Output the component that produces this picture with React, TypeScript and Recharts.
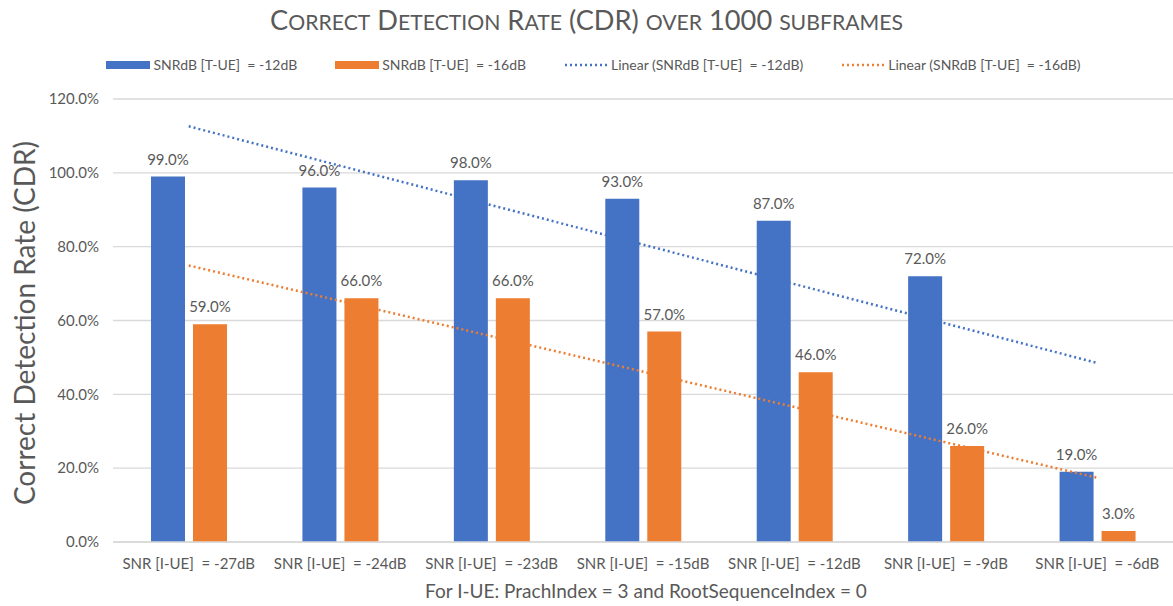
import React from 'react';
import { ComposedChart, Bar, Line, XAxis, YAxis, CartesianGrid, LabelList } from 'recharts';

const categories = [
  'SNR [I-UE]\u00A0 = -27dB',
  'SNR [I-UE]\u00A0 = -24dB',
  'SNR [I-UE]\u00A0 = -23dB',
  'SNR [I-UE]\u00A0 = -15dB',
  'SNR [I-UE]\u00A0 = -12dB',
  'SNR [I-UE]\u00A0 = -9dB',
  'SNR [I-UE]\u00A0 = -6dB',
];
const cdrMinus12 = [99, 96, 98, 93, 87, 72, 19];
const cdrMinus16 = [59, 66, 66, 57, 46, 26, 3];
// trendline endpoints (first and last category)
const trendMinus12: (number | null)[] = [112.6, null, null, null, null, null, 48.5];
const trendMinus16: (number | null)[] = [74.9, null, null, null, null, null, 17.4];
const yTicks = [0, 20, 40, 60, 80, 100, 120];

const seriesNames = {
  b12: 'SNRdB [T-UE]\u00A0 = -12dB',
  b16: 'SNRdB [T-UE]\u00A0 = -16dB',
  t12: 'Linear (SNRdB [T-UE]\u00A0 = -12dB)',
  t16: 'Linear (SNRdB [T-UE]\u00A0 = -16dB)',
};

const titleText = 'Correct Detection Rate (CDR) over 1000 subframes';

const data = categories.map((c, i) => ({
  name: c,
  b12: cdrMinus12[i],
  b16: cdrMinus16[i],
  t12: trendMinus12[i],
  t16: trendMinus16[i],
}));

const BLUE = '#4472C4';
const ORANGE = '#ED7D31';
const GRAY = '#595959';
const FONT = 'Lato, "Open Sans", sans-serif';

const legendItems = [
  { name: seriesNames.b12, color: BLUE, kind: 'rect' },
  { name: seriesNames.b16, color: ORANGE, kind: 'rect' },
  { name: seriesNames.t12, color: BLUE, kind: 'line' },
  { name: seriesNames.t16, color: ORANGE, kind: 'line' },
];

function SmallCapsTitle({ text }: { text: string }) {
  const runs: { t: string; small: boolean }[] = [];
  for (const ch of text) {
    const small = ch >= 'a' && ch <= 'z';
    const last = runs[runs.length - 1];
    if (last && last.small === small) last.t += ch;
    else runs.push({ t: ch, small });
  }
  return (
    <span>
      {runs.map((r, i) => (
        <span key={i} style={{ fontSize: r.small ? 21.2 : 27.2 }}>
          {r.small ? r.t.toUpperCase() : r.t}
        </span>
      ))}
    </span>
  );
}

function LegendBlock() {
  return (
    <div style={{ position: 'absolute', top: 56, left: 0, width: 1173, display: 'flex', justifyContent: 'center', gap: 38, fontFamily: FONT, fontSize: 14, color: GRAY, paddingLeft: 14, boxSizing: 'border-box', whiteSpace: 'pre', lineHeight: '18px' }}>
      {legendItems.map((e, i) => (
        <div key={i} style={{ display: 'flex', alignItems: 'center' }}>
          {e.kind === 'rect' ? (
            <div style={{ width: 44, height: 8, background: e.color, marginRight: 3 }} />
          ) : (
            <svg width={44} height={8} style={{ marginRight: 3 }}>
              <line x1={1} y1={4} x2={43} y2={4} stroke={e.color} strokeWidth={2.5} strokeDasharray="2 3" />
            </svg>
          )}
          <span>{e.name}</span>
        </div>
      ))}
    </div>
  );
}

const pct = (v: any) => `${Number(v).toFixed(1)}%`;

export default function App() {
  return (
    <div style={{ position: 'absolute', left: 0, top: 0, width: 1173, height: 606, background: '#fff', fontFamily: FONT }}>
      <div style={{ position: 'absolute', left: 0, top: 4, width: 1173, textAlign: 'center', color: GRAY, lineHeight: '32px', whiteSpace: 'pre' }}>
        <SmallCapsTitle text={titleText} />
      </div>
      <LegendBlock />
      <div style={{ position: 'absolute', left: 24, top: 323, width: 0, height: 0 }}>
        <div style={{ position: 'absolute', transform: 'translate(-50%, -50%) rotate(-90deg)', whiteSpace: 'nowrap', fontSize: 28, color: GRAY }}>
          Correct Detection Rate (CDR)
        </div>
      </div>
      <div style={{ position: 'absolute', left: 0, top: 579, width: 1173, paddingLeft: 119, boxSizing: 'border-box', textAlign: 'center', fontSize: 19, color: GRAY }}>
        For I-UE: PrachIndex = 3 and RootSequenceIndex = 0
      </div>
      <ComposedChart
        width={1173}
        height={606}
        data={data}
        margin={{ top: 99, right: 0, bottom: 24, left: 0 }}
        barGap={8}
        style={{ position: 'absolute', left: 0, top: 0 }}
      >
        <CartesianGrid vertical={false} stroke="#D9D9D9" strokeWidth={1.3} />
        <XAxis
          dataKey="name"
          axisLine={{ stroke: '#D9D9D9', strokeWidth: 1.3 }}
          tickLine={false}
          tickSize={0}
          tickMargin={16}
          height={40}
          interval={0}
          tick={{ fill: GRAY, fontSize: 15, fontFamily: FONT }}
        />
        <YAxis
          width={113}
          domain={[0, 120]}
          ticks={yTicks}
          axisLine={false}
          tickLine={false}
          tickSize={0}
          tickMargin={14}
          tickFormatter={pct}
          tick={{ fill: GRAY, fontSize: 15, fontFamily: FONT }}
        />
        <Bar dataKey="b12" name={seriesNames.b12} fill={BLUE} barSize={34} isAnimationActive={false}>
          <LabelList dataKey="b12" position="top" offset={12} formatter={pct} fill={GRAY} fontSize={15} fontFamily={FONT} />
        </Bar>
        <Bar dataKey="b16" name={seriesNames.b16} fill={ORANGE} barSize={34} isAnimationActive={false}>
          <LabelList dataKey="b16" position="top" offset={12} formatter={pct} fill={GRAY} fontSize={15} fontFamily={FONT} />
        </Bar>
        <Line dataKey="t12" name={seriesNames.t12} stroke={BLUE} strokeWidth={2.5} strokeDasharray="2 3" dot={false} activeDot={false} connectNulls isAnimationActive={false} />
        <Line dataKey="t16" name={seriesNames.t16} stroke={ORANGE} strokeWidth={2.5} strokeDasharray="2 3" dot={false} activeDot={false} connectNulls isAnimationActive={false} />
      </ComposedChart>
    </div>
  );
}
